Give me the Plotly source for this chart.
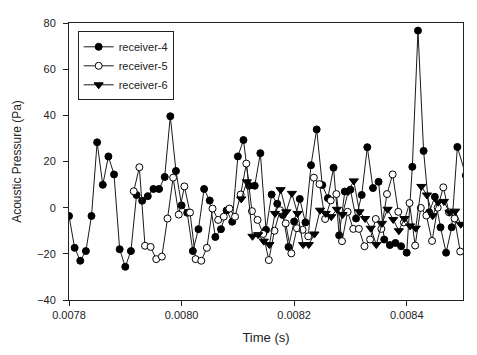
import numpy as np
import plotly.graph_objects as go

# receiver-4: samples every 1e-5 s starting at 0.0078
r4_start = 0.0078
r4_values = [-3.6, -17.4, -23, -18.8, -3.6, 28.3, 9.9, 22.2, 14.4, -18,
             -25.6, -18.8, 5.5, 3, 5, 8.1, 8.1, 13.3, 39.6, 15.9,
             1, -2.2, -18.8, -9.3, 8.1, 3.1, -12.7, -9.3, -1.2, -6.1,
             22.2, 29.3, 9.5, 9.5, 23.6, -9.6, 5.7, 1.7, -3.2, -17,
             -6, 3.8, -6.4, 18.4, 33.9, 9.8, 4.1, 17.3, -12, 7,
             7.8, -4.7, 5.5, 26.2, 8.5, 11.2, -13.8, -16.2, -15.3, -16.7,
             -19.5, 17.7, 76.7, 24.6, -2, 4.7, -8.5, -19.5, -8.5, 26.3,
             14]

# receiver-5
r5_start = 0.007915
r5_values = [7.1, 17.5, -16.5, -17, -22.3, -21.2, -4.7, 13.0, -3, 9.2,
             -2.1, -22.3, -23, -17.4, -0.4, -5.3, -3.9, -0.4, -3.9, 5.7,
             19.1, -1.5, -5.3, -11.4, -22.7, -10, -1.1, -6.8, -19.8, -8.9,
             -9.6, -12.4, 13.0, 10.2, -4.9, 3.1, 5.9, -14.5, -1.8, -9.2,
             -9.2, -16.7, -13.8, -4.9, -9.2, 5.9, 14.4, -1.8, -6.4, 2,
             -16.4, -0.1, -3.4, -14.4, 0, 8.8, -2, -4.7, -19]

# receiver-6
r6_start = 0.008106
r6_values = [3.8, 11.2, -12.4, -11.7, -14.5, -16, -2.5, 7.8, -1.8, 6.2,
             -2.5, -16, -16, -11.4, -1.1, -2.5, -3.9, -0.7, -3, 7,
             11.6, -1.8, -4.7, -8.9, -16, -6.8, -0.7, -5.1, -10, -4.7,
             -7.9, -8.9, 9.2, 5.5, -3.5, 2.4, 2.7, -2, -1.5, -7.2]

step = 1e-5
x_ticks = [0.0078, 0.0080, 0.0082, 0.0084]
y_ticks = [-40, -20, 0, 20, 40, 60, 80]

t4 = r4_start + step * np.arange(len(r4_values))
t4[-1] = r4_start + step * 70.5  # last sample lies just past the right edge
t5 = r5_start + step * np.arange(len(r5_values))
t6 = r6_start + step * np.arange(len(r6_values))

LINE = "#1a1a1a"
fig = go.Figure()
fig.add_trace(go.Scatter(x=t4, y=r4_values, name="receiver-4", mode="lines+markers",
                         line=dict(color=LINE, width=1),
                         marker=dict(symbol="circle", size=7, color="black",
                                     line=dict(color="black", width=1))))
fig.add_trace(go.Scatter(x=t5, y=r5_values, name="receiver-5", mode="lines+markers",
                         line=dict(color=LINE, width=1),
                         marker=dict(symbol="circle", size=7, color="white",
                                     line=dict(color="black", width=1))))
fig.add_trace(go.Scatter(x=t6, y=r6_values, name="receiver-6", mode="lines+markers",
                         line=dict(color=LINE, width=1),
                         marker=dict(symbol="triangle-down", size=8, color="black",
                                     line=dict(color="black", width=1))))

FONT = "Liberation Sans, Arial, sans-serif"
fig.update_layout(
    width=469, height=347,
    margin=dict(l=59, r=14, t=9, b=55),
    paper_bgcolor="white", plot_bgcolor="white",
    font=dict(family=FONT, size=11, color="#222"),
    showlegend=True,
    legend=dict(x=0.022, y=0.97, xanchor="left", yanchor="top",
                bordercolor="#222", borderwidth=1, bgcolor="white",
                font=dict(size=11), tracegroupgap=0, itemwidth=30),
    xaxis=dict(range=[0.0078, 0.0085], tickvals=x_ticks,
               ticktext=["%.4f" % v for v in x_ticks],
               showgrid=False, zeroline=False, showline=True, linecolor="#222",
               linewidth=1, mirror=True, ticks="outside", ticklen=5,
               tickcolor="#222",
               title=dict(text="Time (s)", font=dict(size=13), standoff=12)),
    yaxis=dict(range=[-40, 80], tickvals=y_ticks,
               showgrid=False, zeroline=False, showline=True, linecolor="#222",
               linewidth=1, mirror=True, ticks="outside", ticklen=5,
               tickcolor="#222", ticklabelstandoff=5,
               title=dict(text="Acoustic Pressure (Pa)", font=dict(size=12), standoff=12)),
)

fig.write_html("out.html")
